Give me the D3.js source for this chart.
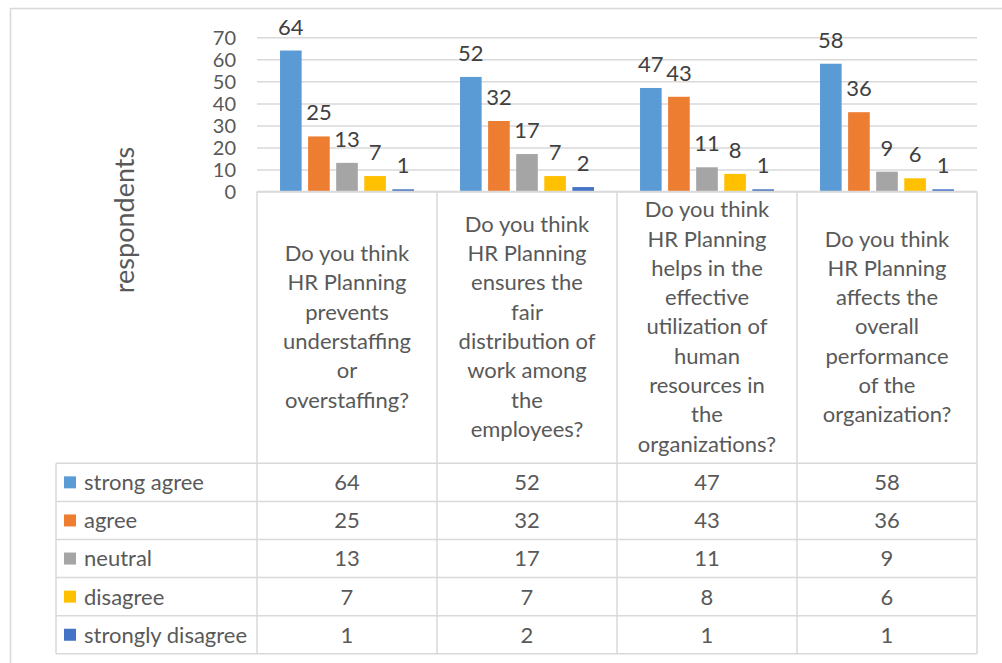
<!DOCTYPE html>
<html>
<head>
<meta charset="utf-8">
<script src="https://cdn.jsdelivr.net/npm/d3@7"></script>
<style>
  html, body { margin: 0; padding: 0; background: #fff; }
  svg { display: block; }
  text { font-family: Lato, "Open Sans", sans-serif; }
</style>
</head>
<body>
<svg id="chart" width="1002" height="663"></svg>
<script>
// Survey questions (one column each, already broken into lines)
const questions = [
  ["Do you think", "HR Planning", "prevents", "understaffing", "or", "overstaffing?"],
  ["Do you think", "HR Planning", "ensures the", "fair", "distribution of", "work among", "the", "employees?"],
  ["Do you think", "HR Planning", "helps in the", "effective", "utilization of", "human", "resources in", "the", "organizations?"],
  ["Do you think", "HR Planning", "affects the", "overall", "performance", "of the", "organization?"]
];
const seriesNames = ["strong agree", "agree", "neutral", "disagree", "strongly disagree"];
const seriesColors = ["#5B9BD5", "#ED7D31", "#A5A5A5", "#FFC000", "#4472C4"];

// respondents per answer, one array per series (in question order)
const strongAgree      = [64, 52, 47, 58];
const agree            = [25, 32, 43, 36];
const neutral          = [13, 17, 11, 9];
const disagree         = [7, 7, 8, 6];
const stronglyDisagree = [1, 2, 1, 1];
const seriesValues = [strongAgree, agree, neutral, disagree, stronglyDisagree];

const yTicks = [0, 10, 20, 30, 40, 50, 60, 70];
const yTitle = "respondents";

const svg = d3.select("#chart");
const grid = "#d9d9d9";
const textGray = "#595959";

// outer chart frame
svg.append("rect")
  .attr("x", 10.5).attr("y", 8.5)
  .attr("width", 1010).attr("height", 680)
  .attr("fill", "none").attr("stroke", grid).attr("stroke-width", 1.5);

const plotLeft = 257, plotRight = 977, plotTop = 37.3, plotBottom = 191.5;
const tableLeft = 56, headerBottom = 463.3, rowH = 38.1;

const qIdx = questions.map((d, i) => i);
const x = d3.scaleBand().domain(qIdx).range([plotLeft, plotRight]);
const xs = d3.scaleBand().domain(seriesNames).range([0, x.bandwidth()])
  .paddingInner(0.23).paddingOuter(0.82);
const y = d3.scaleLinear().domain([0, 70]).range([plotBottom, plotTop]);

// value axis with gridlines
const yAxis = svg.append("g")
  .attr("transform", `translate(${plotLeft},0)`)
  .call(d3.axisLeft(y).tickValues(yTicks).tickSize(-(plotRight - plotLeft)).tickPadding(21));
yAxis.select(".domain").remove();
yAxis.selectAll(".tick line").attr("stroke", grid).attr("stroke-width", 1.5);
yAxis.selectAll(".tick text")
  .attr("fill", textGray).style("font-size", "20px").attr("dy", "0.36em");

// axis title
svg.append("text")
  .attr("transform", "translate(134,220) rotate(-90)")
  .attr("text-anchor", "middle")
  .attr("fill", textGray).style("font-size", "27px")
  .text(yTitle);

// bars
const groups = svg.append("g").selectAll("g")
  .data(seriesNames)
  .join("g")
  .attr("fill", (d, i) => seriesColors[i]);

groups.selectAll("rect")
  .data((s, si) => seriesValues[si].map((v, qi) => ({ s, v, qi })))
  .join("rect")
  .attr("x", d => x(d.qi) + xs(d.s))
  .attr("y", d => y(d.v))
  .attr("width", xs.bandwidth())
  .attr("height", d => y(0) - y(d.v));

// data labels
const labels = svg.append("g");
seriesNames.forEach((s, si) => {
  labels.selectAll(null)
    .data(seriesValues[si].map((v, qi) => ({ s, v, qi })))
    .join("text")
    .attr("x", d => x(d.qi) + xs(d.s) + xs.bandwidth() / 2)
    .attr("y", d => y(d.v) - 16)
    .attr("text-anchor", "middle")
    .attr("fill", "#404040").style("font-size", "22px")
    .text(d => d.v);
});

// data table grid
const tableRows = seriesNames.length;
const tableBottom = headerBottom + rowH * tableRows;
const lines = svg.append("g").attr("stroke", grid).attr("stroke-width", 1.5);
// header top (category axis line)
lines.append("line").attr("x1", plotLeft).attr("x2", plotRight)
  .attr("y1", y(0)).attr("y2", y(0));
// row separators
d3.range(tableRows + 1).forEach(r => {
  lines.append("line").attr("x1", tableLeft).attr("x2", plotRight)
    .attr("y1", headerBottom + r * rowH).attr("y2", headerBottom + r * rowH);
});
// column separators
qIdx.concat([questions.length]).forEach(c => {
  const xx = c < questions.length ? x(c) : plotRight;
  lines.append("line").attr("x1", xx).attr("x2", xx)
    .attr("y1", y(0)).attr("y2", tableBottom);
});
lines.append("line").attr("x1", tableLeft).attr("x2", tableLeft)
  .attr("y1", headerBottom).attr("y2", tableBottom);

// category labels in header cells
const lineH = 29.3, headerMid = 326.5;
questions.forEach((q, qi) => {
  const t = svg.append("text")
    .attr("text-anchor", "middle")
    .attr("fill", textGray).style("font-size", "22px");
  const top = headerMid - (q.length - 1) * lineH / 2;
  q.forEach((ln, li) => {
    t.append("tspan")
      .attr("x", x(qi) + x.bandwidth() / 2)
      .attr("y", top + li * lineH)
      .attr("dy", "0.36em")
      .text(ln);
  });
});

// table rows: legend key + values
seriesNames.forEach((s, si) => {
  const cy = headerBottom + rowH * (si + 0.5);
  svg.append("rect")
    .attr("x", 64).attr("y", cy - 6).attr("width", 12).attr("height", 12)
    .attr("fill", seriesColors[si]);
  svg.append("text")
    .attr("x", 84).attr("y", cy).attr("dy", "0.36em")
    .attr("fill", textGray).style("font-size", "22px")
    .text(s);
  seriesValues[si].forEach((v, qi) => {
    svg.append("text")
      .attr("x", x(qi) + x.bandwidth() / 2).attr("y", cy).attr("dy", "0.36em")
      .attr("text-anchor", "middle")
      .attr("fill", textGray).style("font-size", "22px")
      .text(v);
  });
});
</script>
</body>
</html>
